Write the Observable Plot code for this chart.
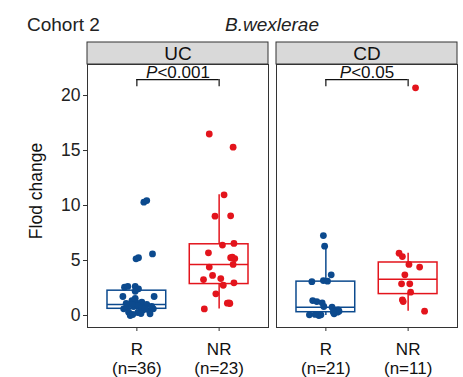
<!DOCTYPE html>
<html><head><meta charset="utf-8">
<script src="https://cdn.jsdelivr.net/npm/d3@7"></script>
<script src="https://cdn.jsdelivr.net/npm/@observablehq/plot@0.6"></script>
<style>
body{margin:0;background:#fff;}
#wrap{position:relative;width:463px;height:377px;font-family:"Liberation Sans",Arial,sans-serif;}
.t{position:absolute;font-size:19px;line-height:19px;color:#222;white-space:nowrap}
#chart{position:absolute;left:0;top:0}
</style></head><body>
<div id="wrap">
<div id="chart"></div>
<div class="t" style="left:27px;top:15px">Cohort 2</div>
<div class="t" style="left:172px;top:15px;width:200px;text-align:center;font-style:italic">B.wexlerae</div>
</div>
<script>
const panels = ["UC", "CD"];
const groups = ["R", "NR"];
const tickLabelsUC = ["R\n(n=36)", "NR\n(n=23)"];
const tickLabelsCD = ["R\n(n=21)", "NR\n(n=11)"];
const pLabels = ["P<0.001", "P<0.05"];
const yTicks = [0, 5, 10, 15, 20];
const colors = ["#0c4a8e", "#e3141c"];

// values; jitter = horizontal offset (category units)
const ucR = [10.3,10.45,5.15,5.25,5.6,2.57,2.64,2.64,2.43,1.73,1.73,2.2,1.36,1.12,1.21,1.0,0.61,0.7,0.3,0.0,0.75,0.52,0.45,0.61,0.15,0.82,0.9,0.73,1.0,0.65,0.27,0.82,1.09,1.55,0.18,0.09];
const ucRJitter = [0.085,0.12,-0.01,0.02,0.19,-0.15,-0.11,-0.02,0.02,-0.17,0.21,-0.02,-0.06,0,0.06,0.12,-0.16,-0.12,-0.1,-0.08,0.04,0.08,0.15,0.2,0.16,-0.04,0.01,0.06,-0.06,0.1,0.01,0.18,-0.13,-0.02,0.05,-0.05];
const ucNR = [16.5,15.3,10.97,9.03,9.06,6.55,6.4,5.7,5.25,5.18,5.3,4.64,4.4,3.64,3.27,3.36,2.97,2.75,1.97,1.12,1.09,1.15,0.6];
const ucNRJitter = [-0.12,0.17,0.06,-0.05,0.14,0.18,0.04,-0.13,0.14,0.19,0.16,0.17,-0.12,-0.08,-0.19,0.02,0.18,0.05,-0.04,0.1,0.13,0.12,-0.18];
const cdR = [7.27,6.3,3.7,3.18,3.12,3.08,1.36,1.27,1.15,0.82,0.76,0.45,0.52,0.06,0.0,0.06,0.15,0.3,0.39,0.33,0.1];
const cdRJitter = [-0.03,-0.015,0.065,-0.03,0.02,-0.17,-0.16,-0.11,-0.045,-0.025,0.075,0.12,0.15,-0.2,-0.085,-0.06,0.1,0.14,0.16,0.09,-0.13];
const cdNR = [20.7,5.66,5.36,4.64,4.4,3.7,2.88,2.88,2.12,1.43,1.27,0.39];
const cdNRJitter = [0.09,-0.11,-0.07,0.01,0.14,-0.04,-0.08,0.02,0.03,-0.07,-0.06,0.2];

const series = [
  {panel: "UC", group: "R", values: ucR, jitter: ucRJitter},
  {panel: "UC", group: "NR", values: ucNR, jitter: ucNRJitter},
  {panel: "CD", group: "R", values: cdR, jitter: cdRJitter},
  {panel: "CD", group: "NR", values: cdNR, jitter: cdNRJitter}
];
const pos = g => groups.indexOf(g) + 1;
const col = g => colors[groups.indexOf(g)];

const points = series.flatMap(s => s.values.map((v, i) => ({panel: s.panel, group: s.group, x: pos(s.group) + s.jitter[i], y: v})));
const boxW = 0.357;
const stats = series.map(s => {
  const v = s.values.slice().sort(d3.ascending);
  const q1 = d3.quantile(v, 0.25), med = d3.quantile(v, 0.5), q3 = d3.quantile(v, 0.75);
  const iqr = q3 - q1;
  const lo = d3.min(v.filter(d => d >= q1 - 1.5 * iqr));
  const hi = d3.max(v.filter(d => d <= q3 + 1.5 * iqr));
  const p = pos(s.group);
  return {panel: s.panel, group: s.group, x: p, x1: p - boxW, x2: p + boxW, q1, med, q3, lo, hi};
});
const tickLabels = panels.flatMap((p, k) => (k === 0 ? tickLabelsUC : tickLabelsCD).map((t, i) => ({panel: p, x: i + 1, text: t})));
const strips = panels.map(p => ({panel: p}));
const brackets = panels.map((p, i) => ({panel: p, x1: 1, x2: 2, y: 21.45, yEnd: 20.8, label: pLabels[i]}));
const bracketEnds = brackets.flatMap(b => [{panel: b.panel, x: 1, y1: b.y, y2: b.yEnd}, {panel: b.panel, x: 2, y1: b.y, y2: b.yEnd}]);

const font = "Liberation Sans, Arial, sans-serif";
const chart = Plot.plot({
  width: 463, height: 377,
  marginLeft: 86, marginRight: 5, marginTop: 64, marginBottom: 50,
  style: {fontFamily: font, color: "#222", background: "white"},
  fx: {domain: panels, padding: 0.042, axis: null},
  x: {domain: [0.4, 2.6], axis: null},
  y: {domain: [-1.09, 22.82], axis: null},
  marks: [
    Plot.rect(strips, {fx: "panel", y1: 22.82, y2: 24.82, fill: "#d9d9d9", stroke: "#333", strokeWidth: 1}),
    Plot.text(strips, {fx: "panel", y: 23.82, text: "panel", fontSize: 19, fill: "#111"}),
    Plot.frame({stroke: "#333", strokeWidth: 1}),
    Plot.axisY({ticks: yTicks, tickSize: 4, tickPadding: 3, fontSize: 17.5, label: null, stroke: "#333", fill: "#222"}),
    Plot.axisX({ticks: [1, 2], tickSize: 4, tickFormat: () => "", label: null, stroke: "#333"}),
    Plot.text(tickLabels, {fx: "panel", x: "x", text: "text", frameAnchor: "bottom", lineAnchor: "top", dy: 14, fontSize: 17, lineHeight: 1.12, fill: "#111"}),
    Plot.text([{panel: "UC"}], {fx: "panel", frameAnchor: "left", textAnchor: "middle", text: () => "Flod change", rotate: -90, dx: -51, dy: -5, fontSize: 17.5, fill: "#111"}),
    Plot.ruleX(stats, {fx: "panel", x: "x", y1: "lo", y2: "q1", stroke: d => col(d.group), strokeWidth: 1.5}),
    Plot.ruleX(stats, {fx: "panel", x: "x", y1: "q3", y2: "hi", stroke: d => col(d.group), strokeWidth: 1.5}),
    Plot.rect(stats, {fx: "panel", x1: "x1", x2: "x2", y1: "q1", y2: "q3", fill: "white", stroke: d => col(d.group), strokeWidth: 1.5}),
    Plot.ruleY(stats, {fx: "panel", x1: "x1", x2: "x2", y: "med", stroke: d => col(d.group), strokeWidth: 1.5}),
    Plot.dot(points, {fx: "panel", x: "x", y: "y", r: 3.4, fill: d => col(d.group), stroke: "none"}),
    Plot.ruleY(brackets, {fx: "panel", x1: "x1", x2: "x2", y: "y", stroke: "#111", strokeWidth: 1.2}),
    Plot.ruleX(bracketEnds, {fx: "panel", x: "x", y1: "y1", y2: "y2", stroke: "#111", strokeWidth: 1.2}),
    Plot.text(brackets, {fx: "panel", x: 1.5, y: 22.05, text: "label", fontSize: 17, fill: "#111"})
  ]
});
document.getElementById("chart").appendChild(chart);
d3.select(chart).selectAll("text").each(function() {
  const t = this.textContent;
  if (t.startsWith("P<")) {
    const s = d3.select(this);
    s.text(null);
    s.append("tspan").attr("font-style", "italic").text("P");
    s.append("tspan").text(t.slice(1));
  }
});
</script>
</body></html>
